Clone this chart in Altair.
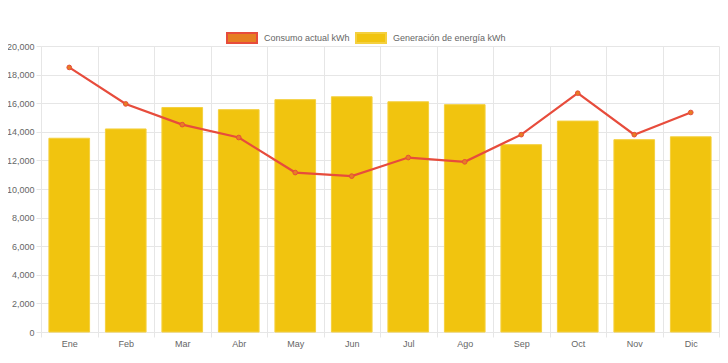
import altair as alt
import pandas as pd

meses = ["Ene", "Feb", "Mar", "Abr", "May", "Jun", "Jul", "Ago", "Sep", "Oct", "Nov", "Dic"]
generacion = [13550, 14200, 15700, 15550, 16250, 16450, 16100, 15900, 13100, 14750, 13450, 13650]
consumo = [18500, 15950, 14500, 13600, 11150, 10900, 12200, 11900, 13800, 16700, 13800, 15350]
series = ["Consumo actual kWh", "Generación de energía kWh"]

df_gen = pd.DataFrame({"mes": meses, "valor": generacion, "serie": series[1]})
df_con = pd.DataFrame({"mes": meses, "valor": consumo, "serie": series[0]})

FONT = "Liberation Sans"
GRID = "#e6e6e6"
LEGEND_PATH = "M-1,-0.333L1,-0.333L1,0.333L-1,0.333Z"

legend = alt.Legend(
    title=None, orient="none", direction="horizontal",
    legendX=185, legendY=-24,
    symbolType=LEGEND_PATH, symbolSize=900, symbolStrokeWidth=2,
    labelFont=FONT, labelFontSize=9, labelColor="#666666",
    labelOffset=6, columnPadding=2, padding=0,
)

fill_scale = alt.Scale(domain=series, range=["#e67e22", "#f1c40f"])
stroke_scale = alt.Scale(domain=series, range=["#e74c3c", "#f4d03f"])

x_enc = alt.X(
    "mes:N", sort=meses, title=None,
    scale=alt.Scale(paddingInner=0, paddingOuter=0),
    axis=alt.Axis(
        tickBand="extent", labelAngle=0, grid=True, gridColor=GRID,
        domainColor=GRID, tickColor=GRID, tickSize=5, labelPadding=2,
        labelFont=FONT, labelFontSize=9, labelColor="#666666",
    ),
)
y_enc = alt.Y(
    "valor:Q", title=None,
    scale=alt.Scale(domain=[0, 20000], nice=False),
    axis=alt.Axis(
        values=list(range(0, 20001, 2000)), format=",d", grid=True,
        gridColor=GRID, domainColor=GRID, tickColor=GRID, tickSize=5,
        labelPadding=2, labelFont=FONT, labelFontSize=9, labelColor="#666666",
    ),
)

bars = alt.Chart(df_gen).mark_bar(
    width=alt.RelativeBandSize(0.72), strokeWidth=1
).encode(
    x=x_enc, y=y_enc,
    fill=alt.Fill("serie:N", scale=fill_scale, legend=legend),
    stroke=alt.Stroke("serie:N", scale=stroke_scale, legend=legend),
)

line = alt.Chart(df_con).mark_line(strokeWidth=2.2).encode(
    x=x_enc, y=y_enc,
    stroke=alt.Stroke("serie:N", scale=stroke_scale, legend=legend),
)

points = alt.Chart(df_con).mark_point(filled=True, size=22, strokeWidth=1, opacity=1).encode(
    x=x_enc, y=y_enc,
    fill=alt.Fill("serie:N", scale=fill_scale, legend=legend),
    stroke=alt.Stroke("serie:N", scale=stroke_scale, legend=legend),
)

chart = alt.layer(bars, line, points).properties(
    width=678, height=286,
    autosize=alt.AutoSizeParams(type="none"),
    padding={"left": 33, "top": 38, "right": 1, "bottom": 19},
).configure_view(stroke=None)

chart.save("out.html", embed_options={"renderer": "svg", "actions": False})
